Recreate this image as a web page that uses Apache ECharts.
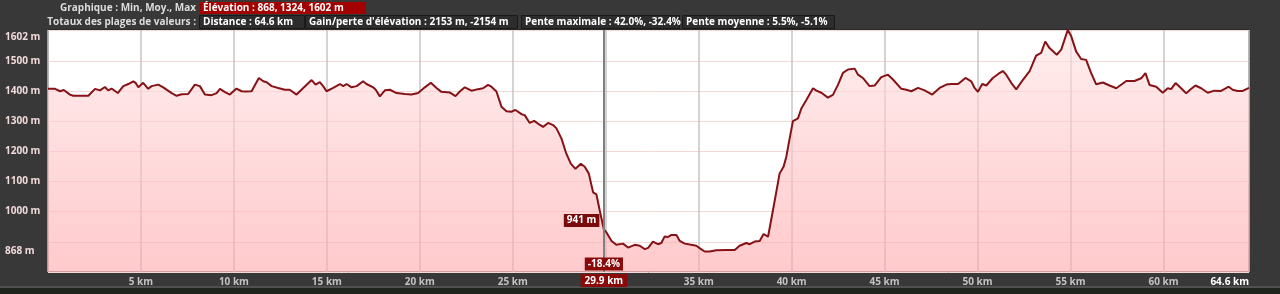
<!DOCTYPE html>
<html>
<head>
<meta charset="utf-8">
<script src="https://cdn.jsdelivr.net/npm/echarts@6/dist/echarts.min.js"></script>
<style>
html,body{margin:0;padding:0;background:#383838;}
#chart{width:1280px;height:294px;}
</style>
</head>
<body>
<div id="chart"></div>
<script>
// ---------- DATA ----------
const distanceKm = [
0,0.38,0.65,0.85,1.18,1.36,2.17,2.53,2.8,3.06,3.24,3.42,3.75,4.05,4.32,4.59,4.71,4.86,5.12,5.39,5.57,5.93,6.2,6.65,6.92,7.19,7.54,7.9,8.17,8.44,8.8,9.07,9.25,9.52,9.78,10.14,10.41,10.6,10.95,11.34,11.58,11.76,12.03,12.38,12.74,13.0,13.37,13.73,14.18,14.39,14.62,14.8,14.98,15.34,15.7,15.88,16.06,16.33,16.6,16.95,17.13,17.49,17.63,17.85,18.12,18.39,18.75,19.2,19.55,19.91,20.27,20.59,20.9,21.16,21.6,21.92,22.15,22.42,22.78,23.13,23.4,23.67,23.85,24.12,24.39,24.66,24.93,25.14,25.47,25.64,25.91,26.15,26.35,26.63,26.9,27.17,27.35,27.62,27.88,28.12,28.37,28.66,28.87,29.09,29.32,29.5,29.68,29.9,30.04,30.31,30.57,30.93,31.2,31.56,31.83,32.1,32.28,32.54,32.81,32.99,33.17,33.35,33.53,33.8,33.98,34.25,34.6,34.87,35.05,35.32,35.59,35.95,36.49,36.94,37.2,37.56,37.74,38.01,38.28,38.49,38.73,38.96,39.17,39.35,39.44,39.57,39.71,39.89,40.07,40.34,40.52,40.79,41.15,41.33,41.6,41.95,42.22,42.49,42.76,43.03,43.39,43.57,43.83,44.19,44.46,44.82,45.18,45.45,45.9,46.17,46.44,46.8,47.15,47.56,47.96,48.32,48.59,48.95,49.35,49.66,49.84,50.02,50.25,50.47,50.82,51.15,51.36,51.54,51.81,52.08,52.44,52.8,53.15,53.42,53.64,53.87,54.26,54.5,54.85,55.04,55.3,55.57,55.84,56.11,56.38,56.74,57.1,57.46,58.0,58.44,58.8,59.03,59.25,59.61,59.96,60.23,60.41,60.65,60.95,61.22,61.43,61.72,62.03,62.38,62.74,63.1,63.51,63.72,63.99,64.26,64.6
];
const elevationM = [
1407,1407,1399,1403,1388,1384,1384,1407,1402,1413,1402,1408,1393,1416,1423,1432,1427,1412,1427,1407,1416,1421,1412,1393,1384,1389,1390,1421,1416,1388,1386,1393,1407,1396,1388,1408,1399,1398,1399,1443,1432,1429,1416,1410,1404,1404,1388,1410,1436,1421,1429,1416,1399,1410,1423,1416,1423,1412,1416,1432,1423,1412,1404,1382,1402,1404,1393,1390,1388,1393,1412,1427,1410,1397,1395,1383,1398,1412,1401,1406,1409,1420,1414,1398,1348,1333,1331,1337,1323,1320,1294,1301,1292,1281,1294,1287,1276,1242,1192,1159,1142,1159,1149,1126,1064,1057,1003,941,931,903,890,894,881,890,887,876,880,901,892,896,918,916,923,923,903,894,890,887,879,868,868,872,873,873,887,896,892,901,903,926,917,993,1064,1126,1129,1150,1181,1242,1300,1309,1342,1370,1409,1401,1394,1378,1387,1420,1460,1471,1474,1454,1443,1416,1418,1446,1454,1438,1407,1404,1399,1410,1402,1388,1410,1421,1423,1423,1443,1432,1410,1397,1423,1418,1443,1458,1466,1454,1427,1405,1437,1466,1517,1526,1564,1542,1520,1537,1602,1581,1531,1506,1503,1459,1422,1428,1418,1409,1433,1433,1442,1459,1420,1414,1394,1409,1406,1426,1409,1392,1404,1418,1409,1394,1401,1400,1414,1404,1400,1400,1410
];
const xLabelValues = [5,10,15,20,25,30,35,40,45,50,55,60,64.6];
const yLabelValues = [868,1000,1100,1200,1300,1400,1500,1602];
const cursorKm = 29.9;
const cursorElevation = 941;
const cursorSlope = '-18.4%';
const headerRow1Label = 'Graphique : Min, Moy., Max';
const headerRow1Value = 'Élévation : 868, 1324, 1602 m';
const headerRow2Label = 'Totaux des plages de valeurs :';
const headerRow2Values = ['Distance : 64.6 km', "Gain/perte d'élévation : 2153 m, -2154 m", 'Pente maximale : 42.0%, -32.4%', 'Pente moyenne : 5.5%, -5.1%'];

// ---------- LAYOUT ----------
const FONT = '"Open Sans", "DejaVu Sans", sans-serif';
const row2Boxes = [[199,106],[305,213],[521,159],[682,153]];

const chart = echarts.init(document.getElementById('chart'), null, {renderer:'canvas'});
const seriesData = distanceKm.map((d,i)=>[d, elevationM[i]]);

const graphics = [
  {type:'rect', shape:{x:0,y:288,width:1280,height:6}, style:{fill:'#1f241c'}, z:0},
  {type:'rect', shape:{x:0,y:286,width:1280,height:2}, style:{fill:'#505050'}, z:0},
  {type:'text', x:196, y:8, style:{text:headerRow1Label, align:'right', verticalAlign:'middle', fill:'#dcdcdc', font:'bold 10px '+FONT}},
  {type:'rect', shape:{x:200,y:2,width:166,height:12}, style:{fill:'#a30000'}},
  {type:'text', x:203, y:8, style:{text:headerRow1Value, align:'left', verticalAlign:'middle', fill:'#ffffff', font:'bold 10px '+FONT}},
  {type:'text', x:196, y:22, style:{text:headerRow2Label, align:'right', verticalAlign:'middle', fill:'#dcdcdc', font:'bold 10px '+FONT}}
];
headerRow2Values.forEach((t,i)=>{
  const b = row2Boxes[i];
  graphics.push({type:'rect', shape:{x:b[0]+0.5,y:15.5,width:b[1]-1,height:13}, style:{fill:'#2d2d2d', stroke:'#1a1a1a', lineWidth:1}});
  graphics.push({type:'text', x:b[0]+4, y:22, style:{text:t, align:'left', verticalAlign:'middle', fill:'#ffffff', font:'bold 10px '+FONT}});
});

const option = {
  animation:false,
  backgroundColor:'#383838',
  textStyle:{fontFamily:FONT},
  grid:{left:48, right:31, top:30, bottom:22, show:true, backgroundColor:'#ffffff', borderColor:'#1e1e1e', borderWidth:1},
  xAxis:{
    type:'value', min:0, max:64.6, interval:5,
    axisLine:{show:false}, axisTick:{show:false},
    splitLine:{show:true, lineStyle:{color:'#c6c6c6', width:1.5}},
    axisLabel:{
      customValues:xLabelValues, margin:5, color:'#c2c2c2', fontSize:10, fontWeight:'bold', fontFamily:FONT,
      alignMaxLabel:'right',
      formatter:function(v){ return v===64.6 ? '{end|64.6 km}' : v+' km'; },
      rich:{end:{color:'#ffffff', fontSize:10, fontWeight:'bold', fontFamily:FONT}}
    }
  },
  yAxis:{
    type:'value', min:800, max:1602, interval:100,
    axisLine:{show:false}, axisTick:{show:false},
    splitLine:{show:true, lineStyle:{color:'#f5d8d8', width:1}},
    axisLabel:{
      customValues:yLabelValues, align:'left', margin:43, color:'#f0dada', fontSize:10, fontWeight:'bold', fontFamily:FONT,
      formatter:function(v){ return v===1602 ? '{max|1602 m}' : v+' m'; },
      rich:{max:{color:'#f0dada', fontSize:10, fontWeight:'bold', fontFamily:FONT, padding:[14,0,0,0]}}
    }
  },
  series:[{
    type:'line', data:seriesData, showSymbol:false, smooth:false,
    lineStyle:{color:'#861216', width:2},
    areaStyle:{color:new echarts.graphic.LinearGradient(0,0,0,1,[
      {offset:0,color:'rgba(255,228,228,0.88)'},
      {offset:1,color:'rgba(255,166,170,0.85)'}
    ])},
    markLine:{
      silent:true, symbol:['none','none'],
      lineStyle:{color:'#808080', width:2, type:'solid'},
      label:{show:true, position:'start', distance:2, formatter:cursorKm+' km', color:'#ffffff', fontWeight:'bold', fontSize:10, fontFamily:FONT, backgroundColor:'#8a0a0a', padding:[2,4,1,4]},
      data:[{xAxis:cursorKm}]
    },
    markPoint:{
      silent:true,
      data:[
        {coord:[cursorKm, cursorElevation], symbol:'circle', symbolSize:1, itemStyle:{color:'rgba(0,0,0,0)'},
         label:{show:true, position:'left', distance:4, offset:[0,-9], formatter:cursorElevation+' m', color:'#ffffff', fontWeight:'bold', fontSize:10, fontFamily:FONT, backgroundColor:'#7a0b0b', padding:[2,3,1,3]}},
        {coord:[cursorKm, 800], symbol:'circle', symbolSize:1, itemStyle:{color:'rgba(0,0,0,0)'},
         label:{show:true, position:'top', distance:1, formatter:cursorSlope, color:'#ffffff', fontWeight:'bold', fontSize:10, fontFamily:FONT, backgroundColor:'#8a0a0a', padding:[2,3,1,3]}}
      ]
    }
  }],
  graphic:graphics
};
chart.setOption(option);
</script>
</body>
</html>
